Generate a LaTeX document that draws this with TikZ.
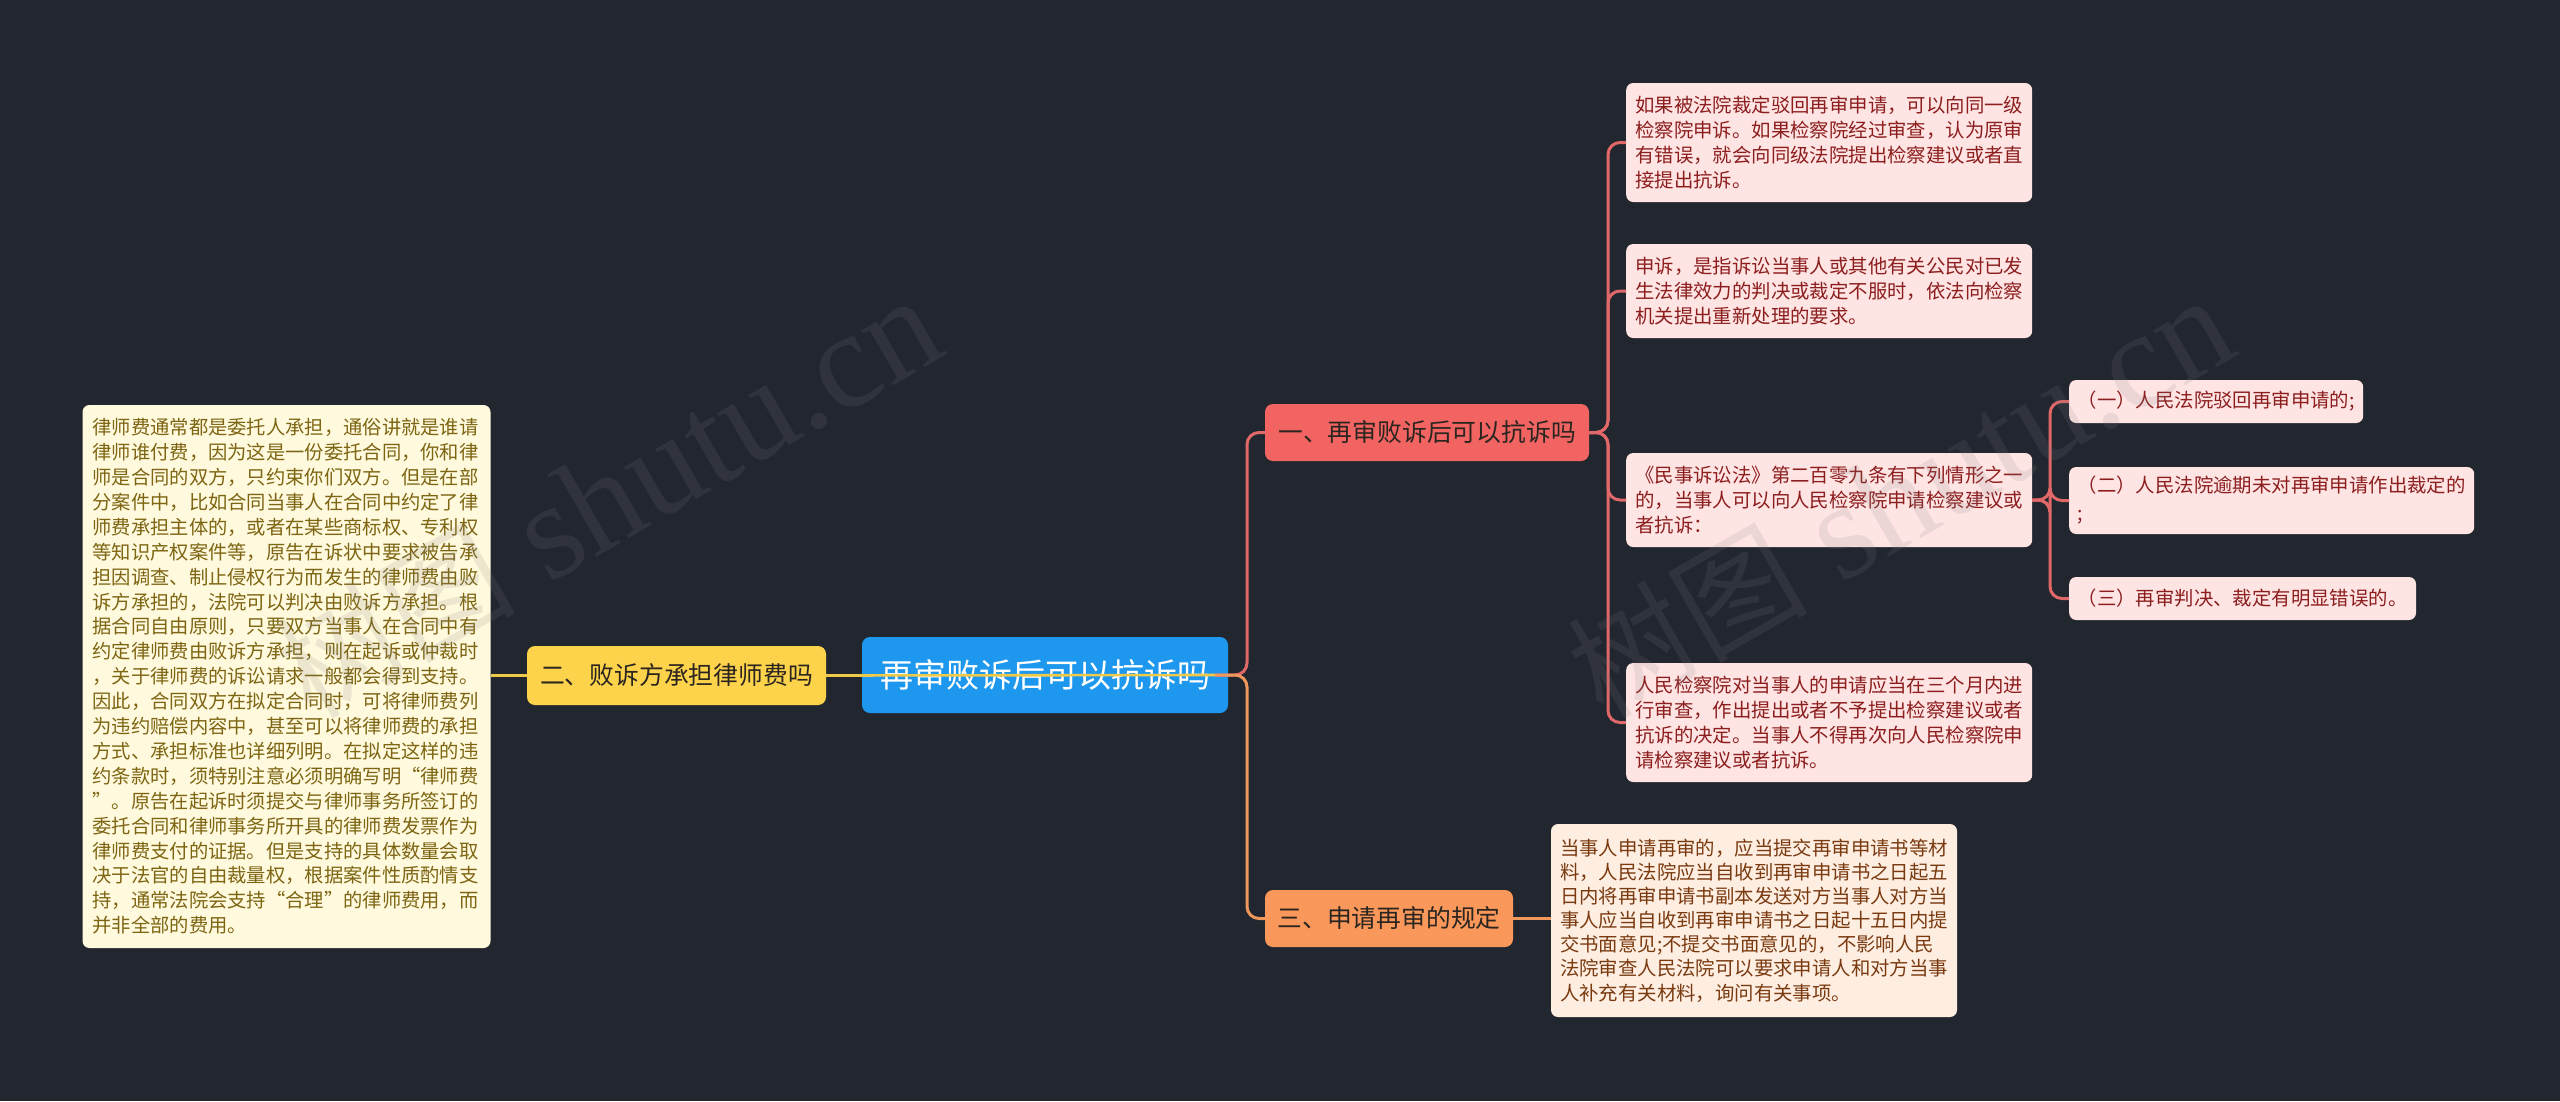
\documentclass[tikz,border=0pt]{standalone}
\usepackage{fontspec}
\setmainfont{Noto Sans CJK SC}
\newfontfamily\wmserif{Liberation Serif}
\usetikzlibrary{calc}
\definecolor{bg}{HTML}{22262F}
\definecolor{cblue}{HTML}{1E98EE}
\definecolor{cyellow}{HTML}{FDD34B}
\definecolor{cred}{HTML}{F26462}
\definecolor{corange}{HTML}{F9985A}
\definecolor{lineyellow}{HTML}{EFC94A}
\definecolor{linered}{HTML}{E06868}
\definecolor{lineorange}{HTML}{F0985C}
\definecolor{creamfill}{HTML}{FFF9DE}
\definecolor{creamtext}{HTML}{7D6512}
\definecolor{pinkfill}{HTML}{FFE4E4}
\definecolor{pinktext}{HTML}{8C1E1E}
\definecolor{peachfill}{HTML}{FEEEE2}
\definecolor{peachtext}{HTML}{7A3A10}
\definecolor{darktext}{HTML}{2B2520}
\tikzset{
  box/.style={rounded corners=7pt, inner ysep=0pt, align=left},
  leafr/.style={box, fill=pinkfill, text=pinktext, inner xsep=9pt, text width=388pt,
    font=\fontsize{19.4pt}{24.9pt}\selectfont, anchor=west},
  subr/.style={box, fill=pinkfill, text=pinktext, inner xsep=8.5pt,
    font=\fontsize{19.4pt}{28pt}\selectfont, anchor=west},
  creambox/.style={box, fill=creamfill, text=creamtext, inner xsep=10pt, text width=388pt,
    font=\fontsize{19.3pt}{24.9pt}\selectfont, minimum height=543pt},
  peachbox/.style={box, fill=peachfill, text=peachtext, inner xsep=9pt, text width=388pt,
    font=\fontsize{19.4pt}{24.1pt}\selectfont, minimum height=193pt},
  mainnode/.style={rounded corners=8pt, inner sep=0pt},
  conn/.style={line width=3pt, rounded corners=12pt},
  wm/.style={text=gray, opacity=0.15, rotate=30, inner sep=0pt}
}
\begin{document}
\begin{tikzpicture}[x=1pt,y=-1pt]
\path[use as bounding box, fill=bg] (0,0) rectangle (2560,1101);

% central and main branches
\node[mainnode, fill=cblue, text=white, minimum width=366pt, minimum height=76pt,
  font=\fontsize{33pt}{40pt}\selectfont] (root) at (1045,675) {再审败诉后可以抗诉吗};
\node[mainnode, fill=cyellow, text=darktext, minimum width=299pt, minimum height=59pt,
  font=\fontsize{24.8pt}{30pt}\selectfont] (two) at (676.5,675.5) {二、败诉方承担律师费吗};
\node[mainnode, fill=cred, text=darktext, minimum width=324pt, minimum height=57pt,
  font=\fontsize{24.8pt}{30pt}\selectfont] (one) at (1427,432.5) {一、再审败诉后可以抗诉吗};
\node[mainnode, fill=corange, text=darktext, minimum width=248pt, minimum height=57pt,
  font=\fontsize{24.8pt}{30pt}\selectfont] (three) at (1389,918.5) {三、申请再审的规定};

% left text
\node[creambox] (lefttext) at (286.5,676.5) {律师费通常都是委托人承担，通俗讲就是谁请\\
律师谁付费，因为这是一份委托合同，你和律\\
师是合同的双方，只约束你们双方。但是在部\\
分案件中，比如合同当事人在合同中约定了律\\
师费承担主体的，或者在某些商标权、专利权\\
等知识产权案件等，原告在诉状中要求被告承\\
担因调查、制止侵权行为而发生的律师费由败\\
诉方承担的，法院可以判决由败诉方承担。根\\
据合同自由原则，只要双方当事人在合同中有\\
约定律师费由败诉方承担，则在起诉或仲裁时\\
，关于律师费的诉讼请求一般都会得到支持。\\
因此，合同双方在拟定合同时，可将律师费列\\
为违约赔偿内容中，甚至可以将律师费的承担\\
方式、承担标准也详细列明。在拟定这样的违\\
约条款时，须特别注意必须明确写明“律师费\\
”。原告在起诉时须提交与律师事务所签订的\\
委托合同和律师事务所开具的律师费发票作为\\
律师费支付的证据。但是支持的具体数量会取\\
决于法官的自由裁量权，根据案件性质酌情支\\
持，通常法院会支持“合理”的律师费用，而\\
并非全部的费用。};

% red leaves
\node[leafr, minimum height=119pt] (l1) at (1626,142.5) {如果被法院裁定驳回再审申请，可以向同一级\\
检察院申诉。如果检察院经过审查，认为原审\\
有错误，就会向同级法院提出检察建议或者直\\
接提出抗诉。};
\node[leafr, minimum height=94pt] (l2) at (1626,291) {申诉，是指诉讼当事人或其他有关公民对已发\\
生法律效力的判决或裁定不服时，依法向检察\\
机关提出重新处理的要求。};
\node[leafr, minimum height=94pt] (l3) at (1626,500) {《民事诉讼法》第二百零九条有下列情形之一\\
的，当事人可以向人民检察院申请检察建议或\\
者抗诉：};
\node[leafr, minimum height=119pt] (l4) at (1626,722.5) {人民检察院对当事人的申请应当在三个月内进\\
行审查，作出提出或者不予提出检察建议或者\\
抗诉的决定。当事人不得再次向人民检察院申\\
请检察建议或者抗诉。};

% sub items
\node[subr, minimum height=43pt] (s1) at (2069,401.5) {（一）人民法院驳回再审申请的;};
\node[subr, minimum height=67pt] (s2) at (2069,500.5) {（二）人民法院逾期未对再审申请作出裁定的\\;};
\node[subr, minimum height=43pt] (s3) at (2069,598.5) {（三）再审判决、裁定有明显错误的。};

% orange leaf
\node[peachbox] (o1) at (1754,920.5) {当事人申请再审的，应当提交再审申请书等材\\
料，人民法院应当自收到再审申请书之日起五\\
日内将再审申请书副本发送对方当事人对方当\\
事人应当自收到再审申请书之日起十五日内提\\
交书面意见;不提交书面意见的，不影响人民\\
法院审查人民法院可以要求申请人和对方当事\\
人补充有关材料，询问有关事项。};

% connectors
\coordinate (hub) at (1215,675);
\coordinate (t1) at (1247,675);
\coordinate (t2) at (1608,432.5);
\coordinate (t3) at (2050,500);
\draw[conn, linered] (hub) -- (t1) |- (one.west);
\draw[conn, lineorange] (hub) -- (t1) |- (three.west);
\draw[line width=2.6pt, lineyellow] (hub) -- (two.east);
\draw[line width=3pt, lineyellow] (two.west) -- (lefttext.east |- two.west);
\draw[line width=3pt, lineorange] (three.east) -- (o1.west |- three.east);
\draw[conn, linered] (one.east) -- (t2) |- (l1.west);
\draw[conn, linered] (one.east) -- (t2) |- (l2.west);
\draw[conn, linered] (one.east) -- (t2) |- (l3.west);
\draw[conn, linered] (one.east) -- (t2) |- (l4.west);
\draw[conn, linered] (l3.east) -- (t3) |- (s1.west);
\draw[conn, linered] (l3.east) -- (t3) |- (s2.west);
\draw[conn, linered] (l3.east) -- (t3) |- (s3.west);

% watermarks
\node[wm, anchor=base west, font=\wmserif\fontsize{138pt}{140pt}\selectfont] (wm1) at (548,585) {shutu.cn};
\node[wm, anchor=base east, font=\fontsize{120pt}{130pt}\selectfont] (wm1c) at (520,600) {树图};
\node[wm, anchor=base west, font=\wmserif\fontsize{138pt}{140pt}\selectfont] (wm2) at (1840,585) {shutu.cn};
\node[wm, anchor=base east, font=\fontsize{120pt}{130pt}\selectfont] (wm2c) at (1812,600) {树图};
\end{tikzpicture}
\end{document}
